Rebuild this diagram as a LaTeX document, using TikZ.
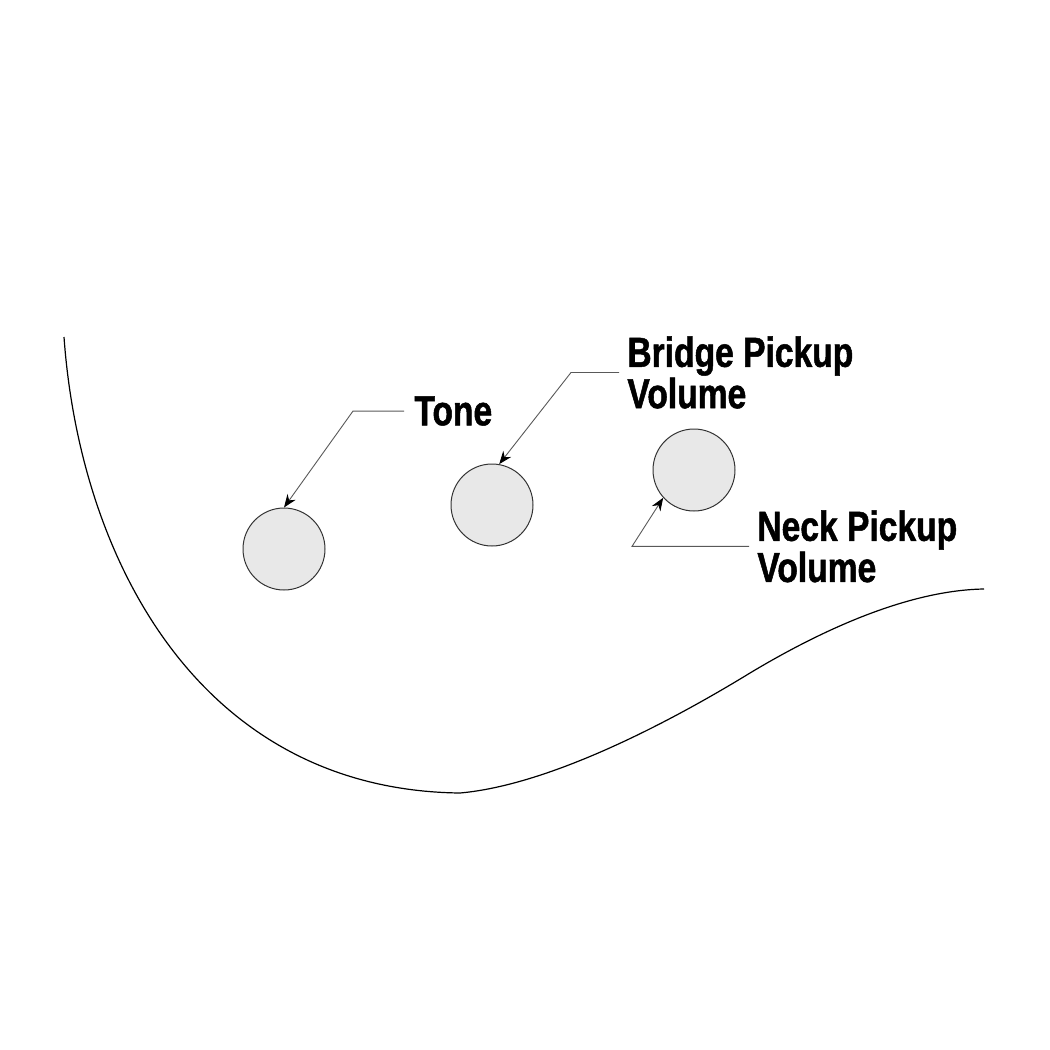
\documentclass[tikz,border=0pt]{standalone}
\usepackage{fontspec}
\usepackage{tikz}
\usetikzlibrary{arrows.meta,positioning,calc}
\newfontfamily\knobfont[FakeStretch=0.8, BoldFeatures={FakeBold=1.2}]{Liberation Sans}

\begin{document}
\begin{tikzpicture}[
    x=0.5pt, y=-0.5pt,
    knob/.style={circle, draw=black!80, line width=0.5pt, fill=gray!18, minimum size=41pt, inner sep=0pt},
    lbl/.style={font=\knobfont\bfseries\fontsize{21}{18}\selectfont, align=left, inner sep=0pt, anchor=north west},
    leader/.style={-{Stealth[length=6.5pt, width=5pt, black]}, line width=0.45pt, black!65},
    body/.style={line width=0.6pt, black}
]
    \useasboundingbox (0,0) rectangle (1050,1050);

    % Body outline
    \draw[body] (64,337) .. controls (80,560) and (200,790) .. (460,793)
        .. controls (550,785) and (670,722) .. (750,673)
        .. controls (840,619) and (920,590) .. (984,589);

    % Knobs
    \node[knob] (tone) at (284,549) {};
    \node[knob] (bridge) at (492,505) {};
    \node[knob] (neck) at (694,470) {};

    % Labels
    \node[lbl] (tonelbl) at (414,396) {Tone};
    \node[lbl] (bridgelbl) at (627,336) {Bridge Pickup\\Volume};
    \node[lbl] (necklbl) at (757,510) {Neck Pickup\\Volume};

    % Leader bends
    \coordinate (tonebend) at ($(tonelbl.west)+(-61,0)$);
    \coordinate (bridgebend) at ($(bridgelbl.west)+(-56,0)$);
    \coordinate (neckbend) at ($(necklbl.west)+(-125,0)$);

    % Leaders
    \draw[leader] ([xshift=-5pt]tonelbl.west) -- (tonebend) -- (tone.north);
    \draw[leader] ([xshift=-4pt]bridgelbl.west) -- (bridgebend) -- (bridge.80);
    \draw[leader] ([xshift=-4pt]necklbl.west) -- (neckbend) -- (neck.222);

\end{tikzpicture}
\end{document}
